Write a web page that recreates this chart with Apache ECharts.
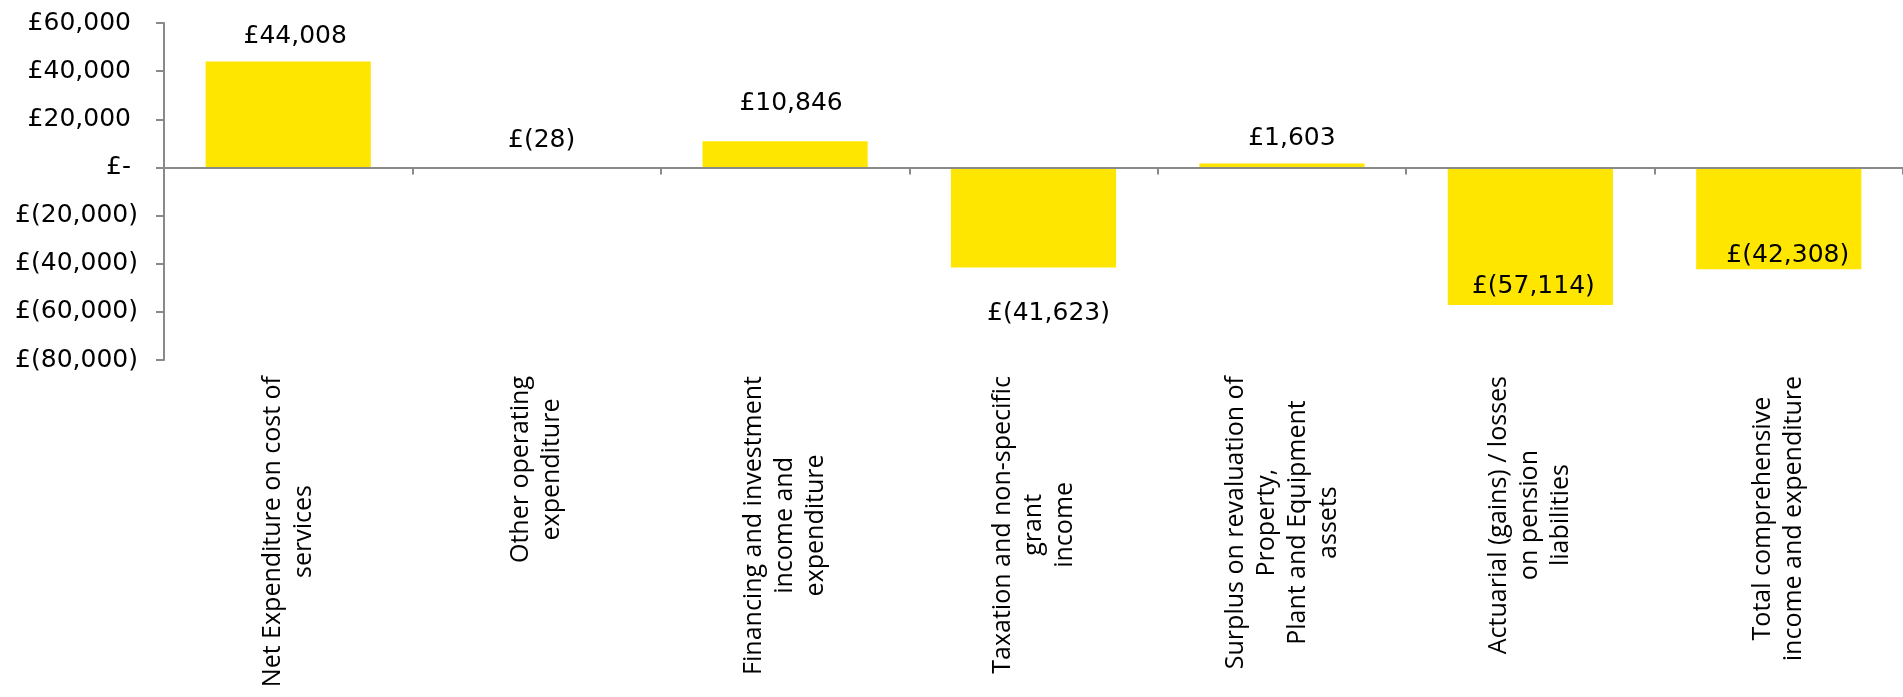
<!DOCTYPE html>
<html>
<head>
<meta charset="utf-8">
<title>Comprehensive income and expenditure</title>
<script src="https://cdn.jsdelivr.net/npm/echarts@6/dist/echarts.min.js"></script>
<style>
  html, body { margin: 0; padding: 0; background: #fff; }
  #chart { width: 1903px; height: 697px; }
</style>
</head>
<body>
<div id="chart"></div>
<script>
// 数据
const categories = [
  'Net Expenditure on cost of\nservices',
  'Other operating\nexpenditure',
  'Financing and investment\nincome and\nexpenditure',
  'Taxation and non-specific\ngrant\nincome',
  'Surplus on revaluation of\nProperty,\nPlant and Equipment\nassets',
  'Actuarial (gains) / losses\non pension\nliabilities',
  'Total comprehensive\nincome and expenditure'
]
const amounts = [44008, -28, 10846, -41623, 1603, -57114, -42308]
const yTicks = { min: -80000, max: 60000, step: 20000 }

// label placement (style only)
const labelPos = ['top', 'top', 'top', 'bottom', 'top', 'insideBottom', 'insideBottom']
const labelDist = [12, 14, 25, 33, 13, 6, 1]
const labelDx = [7, 5, 6, 15, 10, 3, 9]

const axisGrey = '#898989'
const textFont = 'DejaVu Sans'

function money(v) {
  if (v === 0) return '£-'
  const s = Math.abs(v).toLocaleString('en-GB')
  return v < 0 ? '£(' + s + ')' : '£' + s
}

const chart = echarts.init(document.getElementById('chart'))
const option = {
  animation: false,
  grid: { left: 164, top: 23, width: 1748, height: 337 },
  xAxis: [
    {
      type: 'category',
      data: categories,
      position: 'bottom',
      z: 3,
      axisLine: { onZero: true, lineStyle: { color: axisGrey, width: 2 } },
      axisTick: { show: true, length: 7, lineStyle: { color: axisGrey, width: 2 } },
      axisLabel: { show: false }
    },
    {
      type: 'category',
      data: categories,
      position: 'bottom',
      axisLine: { show: false, onZero: false },
      axisTick: { show: false },
      axisLabel: {
        interval: 0,
        rotate: 90,
        margin: 16,
        color: '#000',
        formatter: function (value) {
          return value.split('\n').map(function (l) { return '{c|' + l + '}' }).join('\n')
        },
        rich: {
          c: { align: 'center', fontFamily: 'Open Sans', fontSize: 25, lineHeight: 31, color: '#000' }
        }
      }
    }
  ],
  yAxis: {
    type: 'value',
    min: yTicks.min,
    max: yTicks.max,
    interval: yTicks.step,
    splitLine: { show: false },
    axisLine: { show: true, lineStyle: { color: axisGrey, width: 2 } },
    axisTick: { show: true, length: 8, lineStyle: { color: axisGrey, width: 2 } },
    axisLabel: {
      margin: 26,
      formatter: function (v) {
        return v < 0 ? '{n|' + money(v) + '}' : '{p|' + money(v) + '}'
      },
      rich: {
        p: { fontFamily: textFont, fontSize: 25, color: '#000', padding: [0, 7, 0, 0] },
        n: { fontFamily: textFont, fontSize: 25, color: '#000' }
      }
    }
  },
  series: [
    {
      type: 'bar',
      xAxisIndex: 0,
      barWidth: '66.5%',
      itemStyle: { color: '#FFE600' },
      data: amounts.map(function (v, i) {
        return {
          value: v,
          label: {
            show: true,
            position: labelPos[i],
            distance: labelDist[i],
            offset: [labelDx[i], 0],
            formatter: function (p) { return money(p.value) },
            fontFamily: textFont,
            fontSize: 25,
            color: '#000'
          }
        }
      })
    }
  ]
}
chart.setOption(option)
window.addEventListener('resize', function () {
  chart.resize()
})
</script>
</body>
</html>
